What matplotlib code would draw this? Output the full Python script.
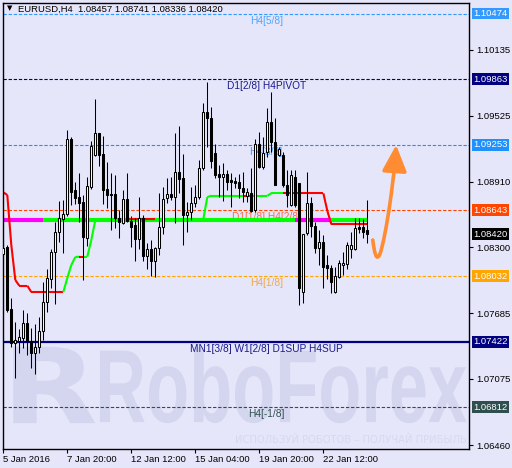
import matplotlib
matplotlib.use('Agg')
import matplotlib.pyplot as plt
import matplotlib.transforms as mtransforms
from matplotlib.path import Path
from matplotlib.patches import FancyArrowPatch, ArrowStyle, PathPatch
from matplotlib.textpath import TextPath
from matplotlib.font_manager import FontProperties
from matplotlib.collections import LineCollection

plt.rcParams['font.family'] = ['Liberation Sans', 'DejaVu Sans']

# --- data (EURUSD H4, 4-hour bars) ---
title = 'EURUSD,H4  1.08457 1.08741 1.08336 1.08420'

opens = [1.08234, 1.08302, 1.07723, 1.07409, 1.07430, 1.07453, 1.07592, 1.07430, 1.07319, 1.07369,
         1.07523, 1.07788, 1.08004, 1.08253, 1.08445, 1.08563, 1.08606, 1.09304, 1.08832, 1.08767,
         1.08724, 1.08389, 1.08863, 1.09158, 1.09360, 1.09167, 1.08839, 1.08795, 1.08795, 1.08569,
         1.08528, 1.08749, 1.08547, 1.08507, 1.08374, 1.08569, 1.08221, 1.08284, 1.08175, 1.08290,
         1.08485, 1.08755, 1.08795, 1.08770, 1.09003, 1.08941, 1.08600, 1.08631, 1.08709, 1.08770,
         1.09034, 1.09555, 1.09500, 1.09174, 1.08979, 1.08951, 1.08981, 1.08926, 1.08916, 1.08910,
         1.08848, 1.08779, 1.08802, 1.08646, 1.09258, 1.09049, 1.09189, 1.09468, 1.09282, 1.09158,
         1.09158, 1.08879, 1.08693, 1.08956, 1.08895, 1.07886, 1.08430, 1.08714, 1.08500, 1.08296,
         1.08346, 1.08135, 1.08104, 1.07886, 1.08026, 1.08135, 1.08141, 1.08284, 1.08284, 1.08491,
         1.08491, 1.08457]
highs = [1.08351, 1.08321, 1.07830, 1.07607, 1.07539, 1.07716, 1.07688, 1.07549, 1.07586, 1.07654,
         1.07977, 1.08097, 1.08284, 1.08538, 1.08733, 1.08739, 1.09391, 1.09328, 1.08904, 1.08988,
         1.08786, 1.08956, 1.09288, 1.09679, 1.09363, 1.09335, 1.09090, 1.08988, 1.08972, 1.08646,
         1.08832, 1.08988, 1.08591, 1.08569, 1.08765, 1.08600, 1.08337, 1.08367, 1.08299, 1.08802,
         1.08858, 1.08941, 1.08951, 1.09360, 1.09431, 1.09167, 1.08724, 1.08863, 1.08879, 1.09112,
         1.09639, 1.09840, 1.09608, 1.09260, 1.09065, 1.09081, 1.09019, 1.08988, 1.08956, 1.08979,
         1.09003, 1.08848, 1.09034, 1.09307, 1.09375, 1.09328, 1.09593, 1.09747, 1.09500, 1.09235,
         1.09183, 1.09019, 1.09019, 1.09019, 1.08898, 1.08423, 1.08997, 1.08770, 1.08538, 1.08460,
         1.08414, 1.08228, 1.08135, 1.08119, 1.08181, 1.08258, 1.08351, 1.08445, 1.08569, 1.08575,
         1.08563, 1.08741]
lows = [1.08135, 1.07697, 1.07375, 1.07086, 1.07316, 1.07365, 1.07297, 1.07176, 1.07121, 1.07316,
        1.07437, 1.07697, 1.07921, 1.07769, 1.08351, 1.08246, 1.08593, 1.08693, 1.08699, 1.08538,
        1.07995, 1.08314, 1.08842, 1.09149, 1.09059, 1.08702, 1.08662, 1.08460, 1.08476, 1.08383,
        1.08516, 1.08538, 1.08305, 1.08175, 1.08284, 1.08175, 1.08095, 1.08035, 1.08026, 1.08228,
        1.08423, 1.08714, 1.08739, 1.08523, 1.08807, 1.08321, 1.08445, 1.08553, 1.08672, 1.08749,
        1.09019, 1.09235, 1.09034, 1.08941, 1.08765, 1.08730, 1.08832, 1.08677, 1.08848, 1.08755,
        1.08724, 1.08724, 1.08631, 1.08631, 1.09034, 1.09028, 1.09142, 1.09189, 1.08879, 1.09152,
        1.08863, 1.08677, 1.08684, 1.08677, 1.07762, 1.07778, 1.08414, 1.08398, 1.08244, 1.08135,
        1.07923, 1.08004, 1.07871, 1.07871, 1.08017, 1.08042, 1.08095, 1.08197, 1.08274, 1.08430,
        1.08389, 1.08336]
closes = [1.08296, 1.07716, 1.07406, 1.07437, 1.07462, 1.07592, 1.07430, 1.07319, 1.07369, 1.07523,
          1.07788, 1.08011, 1.08253, 1.08445, 1.08569, 1.08606, 1.09304, 1.08817, 1.08761, 1.08714,
          1.08398, 1.08870, 1.09242, 1.09360, 1.09158, 1.08832, 1.08786, 1.08786, 1.08569, 1.08532,
          1.08749, 1.08547, 1.08491, 1.08374, 1.08569, 1.08221, 1.08284, 1.08175, 1.08290, 1.08485,
          1.08746, 1.08795, 1.08770, 1.09003, 1.08932, 1.08600, 1.08631, 1.08709, 1.08770, 1.09034,
          1.09555, 1.09500, 1.09102, 1.08972, 1.08956, 1.08981, 1.08910, 1.08904, 1.08900, 1.08848,
          1.08817, 1.08811, 1.08640, 1.09258, 1.09049, 1.09180, 1.09468, 1.09282, 1.08879, 1.09214,
          1.08879, 1.08786, 1.08972, 1.08693, 1.07918, 1.08420, 1.08714, 1.08500, 1.08296, 1.08346,
          1.08119, 1.08104, 1.07974, 1.08032, 1.08156, 1.08156, 1.08321, 1.08321, 1.08476, 1.08470,
          1.08439, 1.08420]

# trailing stop indicator (value per bar, r = above price / g = below price)
stop_line = [1.08811, 1.08786, 1.08321, 1.07995, 1.07942, 1.07942, 1.07942, 1.07883, 1.07883, 1.07883,
             1.07883, 1.07883, 1.07883, 1.07883, 1.07883, 1.07883, 1.08014, 1.08135, 1.08209, 1.08212,
             1.08212, 1.08212, 1.08367, 1.08553, 1.08563, 1.08563, 1.08563, 1.08563, 1.08563, 1.08563,
             1.08563, 1.08563, 1.08563, 1.08563, 1.08563, 1.08563, 1.08563, 1.08563, 1.08563, 1.08563,
             1.08563, 1.08563, 1.08563, 1.08563, 1.08563, 1.08563, 1.08563, 1.08563, 1.08563, 1.08563,
             1.08563, 1.08767, 1.08779, 1.08779, 1.08779, 1.08779, 1.08779, 1.08779, 1.08779, 1.08779,
             1.08779, 1.08779, 1.08779, 1.08779, 1.08779, 1.08779, 1.08779, 1.08802, 1.08802, 1.08802,
             1.08802, 1.08802, 1.08802, 1.08802, 1.08802, 1.08802, 1.08802, 1.08802, 1.08802, 1.08802,
             1.08802, 1.08637, 1.08513, 1.08513, 1.08513, 1.08513, 1.08513, 1.08513, 1.08513, 1.08513,
             1.08513, 1.08513]
stop_state = ('rrrrrrrrrrrrrrrggggrggggggggggg'
              'rrrrrrrggggggggggggggggggggggrr'
              'ggggggggrrrrrrrrrrrrrrrrrrrrrr')

# thick trend level and where it changes colour
trend_level = 1.08553
trend_breaks = [0, 10, 73, 82, 91]
trend_colors = ['#FF00FF', '#00FF00', '#FF00FF', '#00FF00']

# Murrey levels
level_prices = [1.10474, 1.09863, 1.09253, 1.08643, 1.08032, 1.07422, 1.06812]
level_names = ['H4[5/8]', 'D1[2/8] H4PIVOT', 'H4[3/8]', 'D1[1/8] H4[2/8]', 'H4[1/8]',
               'MN1[3/8] W1[2/8] D1SUP H4SUP', 'H4[-1/8]']
level_colors = ['#3399FF', '#000080', '#1E90FF', '#FF4500', '#FFA500', '#000080', '#2F4F4F']
level_text_colors = ['#4DA6FF', '#1A1A8C', '#3399FF', '#FF6A4D', '#F5A742', '#1A1A8C', '#2F4F4F']
level_solid = [False, False, False, False, False, True, False]
last_price = 1.08420

# forecast arrow: start, bottom, tip
forecast_x = [92.35, 93.7, 98.2]
forecast_y = [1.08367, 1.08212, 1.09251]

tick_pos = [0, 16, 32, 48, 64, 80]
tick_labels = ['5 Jan 2016', '7 Jan 20:00', '12 Jan 12:00', '15 Jan 04:00', '19 Jan 20:00', '22 Jan 12:00']
price_ticks = [1.10135, 1.09525, 1.08910, 1.08300, 1.07685, 1.07075, 1.06460]

BG = '#E6E6FA'
WM = '#D3D6EE'

fig = plt.figure(figsize=(5.12, 4.68), dpi=100, facecolor=BG)
ax = fig.add_axes([3 / 512, 19 / 468, 466 / 512, 446 / 468], facecolor=BG)
ax.set_xlim(-0.075, 116.4)
ax.set_ylim(1.06423, 1.10572)

# watermark
def fitted_text(s, x0, y0, x1, y1, prop, color, z):
    tp = TextPath((0, 0), s, size=1, prop=prop)
    ext = tp.get_extents()
    tr = (mtransforms.Affine2D().translate(-ext.x0, -ext.y0)
          .scale((x1 - x0) / ext.width, (y1 - y0) / ext.height).translate(x0, y0))
    patch = PathPatch(tr.transform_path(tp), fc=color, ec='none', transform=ax.transAxes,
                      zorder=z, clip_on=False)
    ax.add_patch(patch)

fitted_text('RoboForex', 0.208, 0.058, 0.995, 0.229,
            FontProperties(family='Liberation Sans', weight='bold'), WM, 0.5)
fitted_text('R', 0.022, 0.058, 0.198, 0.229,
            FontProperties(family='DejaVu Sans', weight='bold'), WM, 0.5)
ax.text(0.497, 0.021, 'ИСПОЛЬЗУЙ РОБОТОВ – ПОЛУЧАЙ ПРИБЫЛЬ', transform=ax.transAxes,
        fontsize=7.2, color='#D6D9F0', ha='left', va='center', zorder=0.5,
        family='DejaVu Sans', clip_on=True)

# horizontal levels and labels
for p, name, c, tc, solid in zip(level_prices, level_names, level_colors,
                                 level_text_colors, level_solid):
    if solid:
        ax.axhline(p, color=c, lw=1.6, zorder=1)
    else:
        ax.axhline(p, color=c, lw=0.8, dashes=(3, 1.6), zorder=1)
    ax.annotate(name, (65.7, p), xytext=(0, -1.5), textcoords='offset points',
                ha='center', va='top', fontsize=7.3, color=tc, zorder=1)

# thick trend line
for a, b, c in zip(trend_breaks[:-1], trend_breaks[1:], trend_colors):
    ax.plot([a, b], [trend_level, trend_level], color=c, lw=3, solid_capstyle='butt', zorder=2)

# trailing stop
segs, cols = [], []
for i in range(len(stop_line) - 1):
    segs.append([(i, stop_line[i]), (i + 1, stop_line[i + 1])])
    cols.append('#FF0000' if stop_state[i] == 'r' else '#00FF00')
ax.add_collection(LineCollection(segs, colors=cols, linewidths=1.5, zorder=2.2,
                                 capstyle='butt'))

# candles
idx = list(range(len(opens)))
ax.vlines(idx, lows, highs, color='black', lw=0.75, zorder=3)
bottoms = [min(o, c) for o, c in zip(opens, closes)]
heights = [max(abs(c - o), 0.00002) for o, c in zip(opens, closes)]
faces = ['white' if c > o else 'black' for o, c in zip(opens, closes)]
ax.bar(idx, heights, bottom=bottoms, width=0.5, color=faces, edgecolor='black',
       linewidth=0.75, zorder=3.5)

# forecast arrow
(x0, x1, x2), (y0, y1, y2) = forecast_x, forecast_y
arrow_path = Path([(x0, y0), (x0 + 0.6, y1 - 0.0003), (x1, y1),
                   (x1 + 1.0, y1), (x2 - 0.8, y2 - 0.0045), (x2, y2)],
                  [Path.MOVETO, Path.CURVE3, Path.CURVE3,
                   Path.CURVE4, Path.CURVE4, Path.CURVE4])
arrow = FancyArrowPatch(path=arrow_path, arrowstyle=ArrowStyle('-|>', head_length=1.6, head_width=0.75),
                        mutation_scale=10, color='#FF8C33', lw=2.6, shrinkA=0, shrinkB=0,
                        zorder=4, clip_on=False)
ax.add_patch(arrow)

# axes
ax.yaxis.tick_right()
ax.set_yticks(price_ticks, [f'{p:.5f}' for p in price_ticks])
ax.set_xticks(tick_pos, tick_labels, ha='left')
ax.tick_params(axis='y', direction='out', length=3, width=0.8, pad=2, labelsize=6.8,
               colors='black')
ax.tick_params(axis='x', direction='out', length=3, width=0.8, pad=1.5, labelsize=6.8,
               colors='black')
for s in ax.spines.values():
    s.set_color('black')
    s.set_linewidth(1.0)

# price boxes on the scale
box_tr = mtransforms.blended_transform_factory(ax.transAxes, ax.transData)
for p, c in zip(level_prices + [last_price], level_colors + ['black']):
    ax.text(1.0095, p, f'{p:.5f}', transform=box_tr, ha='left', va='center', color='white',
            fontsize=6.8, clip_on=False, zorder=6,
            bbox=dict(boxstyle='square,pad=0.15', fc=c, ec='none'))

# title
ax.text(0.009, 0.9945, '▼', transform=ax.transAxes, fontsize=5, va='top', ha='left',
        family='DejaVu Sans', zorder=6)
ax.text(0.032, 0.997, title, transform=ax.transAxes, fontsize=6.8, va='top', ha='left',
        zorder=6)

fig.savefig('out.png', dpi=100, facecolor=BG)
